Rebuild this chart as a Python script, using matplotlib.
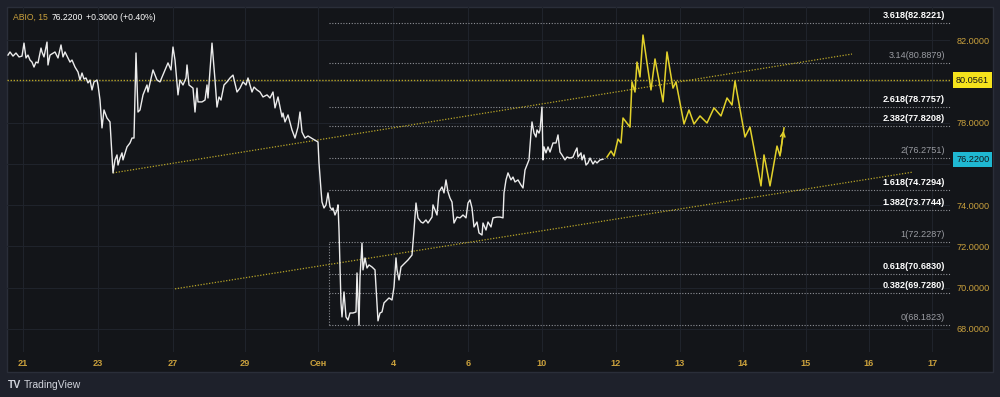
"""ABIO 15m chart with fibonacci extension and projected path (TradingView style)."""

import matplotlib
matplotlib.use("Agg")
import matplotlib.pyplot as plt
from matplotlib.patches import Rectangle

plt.rcParams["font.family"] = ["Liberation Sans", "DejaVu Sans"]

# ---- data -------------------------------------------------------------
# bar positions (chart index) and close prices of the white series
bars = [8, 10, 13, 16, 19, 22, 24, 26, 28, 30,
        32, 34, 36, 38, 41, 42, 44, 47, 48, 50,
        55, 58, 61, 63, 65, 67, 70, 72, 75, 78,
        80, 82, 84, 86, 88, 90, 92, 94, 97, 98,
        100, 102, 104, 107, 110, 113, 115, 117, 118, 120,
        122, 123, 127, 130, 132, 134, 136, 138, 140, 143,
        147, 148, 150, 153, 157, 160, 165, 168, 171, 173,
        175, 178, 180, 183, 186, 187, 189, 193, 195, 197,
        198, 202, 205, 207, 208, 212, 215, 217, 219, 221,
        224, 227, 230, 233, 237, 240, 243, 246, 248, 252,
        254, 257, 260, 263, 267, 270, 273, 275, 278, 282,
        283, 285, 288, 292, 295, 298, 300, 302, 305, 308,
        313, 318, 319, 321, 322, 324, 326, 328, 330, 332,
        333, 335, 337, 338, 339, 341, 342, 344, 346, 348,
        350, 353, 356, 357, 359, 360, 362, 363, 365, 367,
        369, 372, 375, 378, 380, 382, 384, 387, 389, 392,
        394, 396, 397, 399, 401, 403, 406, 408, 412, 414,
        416, 418, 421, 423, 426, 428, 432, 433, 437, 439,
        442, 444, 446, 448, 450, 452, 454, 457, 460, 463,
        466, 468, 470, 472, 474, 477, 479, 482, 483, 486,
        488, 491, 493, 497, 500, 503, 504, 506, 508, 511,
        513, 515, 518, 521, 523, 525, 527, 529, 531, 532,
        534, 536, 537, 539, 540, 542, 543, 544, 546, 548,
        550, 553, 556, 558, 560, 562, 565, 567, 570, 573,
        575, 577, 578, 581, 582, 584, 586, 588, 590, 593,
        595, 597, 600, 603]
close = [81.27, 81.42, 81.22, 81.37, 81.18, 81.22, 81.85, 81.13, 81.27, 81.03,
         80.93, 80.69, 80.93, 80.89, 81.61, 81.42, 81.18, 81.90, 80.79, 81.27,
         81.42, 81.13, 81.76, 81.18, 81.42, 81.22, 80.93, 81.03, 80.69, 80.45,
         80.06, 80.40, 80.11, 80.16, 79.92, 80.06, 79.58, 79.97, 80.06, 79.82,
         79.09, 77.74, 78.61, 78.22, 78.03, 75.56, 76.19, 76.43, 75.94, 76.28,
         76.53, 76.19, 76.82, 77.01, 77.25, 77.25, 81.37, 78.51, 78.61, 79.34,
         79.82, 79.48, 79.92, 80.55, 80.06, 79.97, 80.55, 80.89, 80.55, 81.66,
         81.03, 79.34, 80.06, 79.82, 80.16, 80.79, 79.82, 79.67, 78.51, 79.67,
         79.00, 79.00, 79.09, 79.82, 79.19, 81.85, 80.06, 78.75, 79.24, 79.09,
         79.82, 79.97, 80.16, 80.30, 79.48, 79.67, 79.97, 79.82, 80.16, 79.48,
         79.72, 79.58, 79.48, 79.24, 79.34, 79.19, 79.48, 78.71, 79.24, 78.27,
         78.46, 78.03, 78.37, 77.64, 77.25, 77.78, 78.51, 77.54, 77.25, 77.35,
         77.20, 77.06, 76.04, 74.73, 74.15, 73.86, 74.01, 74.59, 73.91, 73.76,
         73.86, 73.52, 73.76, 74.01, 72.79, 69.26, 68.58, 69.79, 68.58, 68.43,
         68.77, 68.77, 68.82, 70.71, 68.18, 70.52, 72.16, 70.86, 71.44, 70.95,
         71.10, 71.00, 70.86, 68.39, 68.77, 68.82, 69.26, 69.40, 69.50, 69.40,
         70.03, 71.44, 70.86, 70.37, 71.00, 71.10, 71.24, 71.34, 71.58, 72.79,
         74.10, 73.38, 73.18, 73.13, 73.28, 73.13, 73.42, 74.01, 73.52, 74.64,
         74.88, 74.59, 75.22, 74.64, 74.34, 74.15, 73.13, 73.42, 73.38, 73.52,
         73.38, 74.10, 74.25, 73.86, 72.94, 73.18, 72.65, 72.55, 73.13, 72.79,
         73.18, 72.94, 73.38, 73.42, 73.42, 73.38, 74.59, 75.22, 75.56, 75.22,
         75.36, 75.12, 75.22, 74.97, 74.83, 75.70, 75.94, 76.19, 77.49, 78.03,
         77.49, 77.30, 77.64, 77.49, 77.64, 78.75, 76.19, 76.82, 76.53, 76.82,
         76.57, 77.01, 77.01, 77.40, 76.57, 76.43, 76.19, 76.33, 76.28, 76.33,
         76.57, 76.77, 76.33, 76.53, 76.19, 76.43, 75.94, 76.04, 76.28, 75.99,
         76.14, 76.04, 76.19, 76.22]

# projected path (yellow)
proj_bars = [607, 611, 614, 618, 621, 623, 630, 632, 635, 637,
             640, 643, 647, 651, 655, 663, 667, 673, 676, 684,
             689, 694, 700, 707, 714, 721, 727, 732, 735, 745,
             750, 761, 764, 770, 777, 780, 784]
proj_price = [76.33, 76.62, 76.38, 77.20, 77.01, 78.22, 77.78, 79.97, 79.48, 80.93,
              80.21, 82.24, 80.89, 79.58, 81.08, 79.00, 81.42, 79.67, 79.97, 77.93,
              78.61, 77.93, 78.32, 77.98, 78.71, 78.32, 79.19, 78.85, 80.01, 77.30,
              77.78, 74.93, 76.43, 74.93, 76.86, 76.38, 77.74]

# channel trend lines: (bar0, price0, bar1, price1)
upper_trend = (113, 75.56, 852, 81.32)
lower_trend = (175, 69.94, 913, 75.60)

# fibonacci extension levels
fib_ratio = ["3.618", "3.14", "2.618", "2.382", "2", "1.618", "1.382", "1", "0.618", "0.382", "0"]
fib_price = [82.8221, 80.8879, 78.7757, 77.8208, 76.2751, 74.7294, 73.7744, 72.2287, 70.6830, 69.7280, 68.1823]
fib_bold = [True, False, True, True, False, True, True, False, True, True, False]
fib_start, fib_end = 329, 950

hline_price = 80.0561
last_price = 76.2200

x_tick_pos = [23, 98, 173, 245, 318, 393, 468, 542, 616, 680, 743, 806, 869, 932]
x_tick_lab = ["21", "23", "27", "29", "Сен", "4", "6", "10", "12", "13", "14", "15", "16", "17"]
y_ticks = [68, 70, 72, 74, 76, 78, 80, 82]
y_hidden = [76, 80]   # covered by the price badges

# ---- style ------------------------------------------------------------
OUTER = "#1e212b"
PANEL = "#131519"
GRID = "#1f232b"
GOLD = "#c9a03c"
YEL = "#e2d12b"
YEL_DIM = "#b8a528"
FIB = "#8e9096"
FS = 6.6

fig = plt.figure(figsize=(10, 3.97), dpi=100, facecolor=OUTER)
fig.patches.append(Rectangle((7 / 1000, 25 / 397), 986 / 1000, 365 / 397,
                             transform=fig.transFigure, facecolor=PANEL,
                             edgecolor="#2a2e39", lw=1, zorder=-5))

ax = fig.add_axes([7 / 1000, 45 / 397, 943 / 1000, 345 / 397])
ax.patch.set_alpha(0)
for s in ax.spines.values():
    s.set_visible(False)

ax.set_xlim(7, 950)
ax.set_ylim(66.88, 83.60)

ax.set_xticks(x_tick_pos)
ax.set_xticklabels(x_tick_lab)
ax.set_yticks(y_ticks)
ax.set_yticklabels(["" if v in y_hidden else f"{v:.4f}" for v in y_ticks])
ax.yaxis.tick_right()
ax.tick_params(axis="both", length=0, colors=GOLD, labelsize=FS)
ax.tick_params(axis="x", pad=5)
ax.tick_params(axis="y", pad=4.5)
for lab in ax.get_xticklabels():
    lab.set_fontweight("bold")
ax.grid(True, color=GRID, lw=0.8)
ax.set_axisbelow(True)

# fib levels
for r, p, b in zip(fib_ratio, fib_price, fib_bold):
    ax.plot([fib_start, fib_end], [p, p], color=FIB, lw=0.8,
            ls=(0, (1, 1.5)), clip_on=False, zorder=2)
    ax.annotate(f"{r}({p:.4f})", xy=(945, p), xytext=(0, 2), textcoords="offset points",
                ha="right", va="bottom", fontsize=FS,
                color="white" if b else "#9a9ca2",
                fontweight="bold" if b else "normal", zorder=5)
ax.plot([fib_start, fib_start], [fib_price[-1], fib_price[7]], color=FIB,
        lw=0.8, ls=(0, (1, 1.5)), zorder=2)

# horizontal level and trend lines
ax.plot([7, 950], [hline_price, hline_price], color=YEL_DIM, lw=1.0,
        ls=(0, (1, 1.2)), clip_on=False, zorder=3)
for x0, y0, x1, y1 in (upper_trend, lower_trend):
    ax.plot([x0, x1], [y0, y1], color=YEL_DIM, lw=0.9, ls=(0, (1, 1.3)), zorder=3)

# price and projection
ax.plot(bars, close, color="#ececec", lw=1.0, zorder=4)
ax.plot(proj_bars, proj_price, color=YEL, lw=1.1, zorder=4)
ax.annotate("", xy=(proj_bars[-1], proj_price[-1]),
            xytext=(proj_bars[-2], proj_price[-2]),
            arrowprops=dict(arrowstyle="->", color=YEL, lw=1.1, mutation_scale=8), zorder=4)

# price-scale badges
ytr = ax.get_yaxis_transform()
ax.text(1.0064, hline_price, f"{hline_price:.4f}", transform=ytr, fontsize=FS,
        color="#131519", va="center", ha="left", zorder=6,
        bbox=dict(boxstyle="square,pad=0.35", fc="#f5e31c", ec="none"))
ax.text(1.0064, last_price, f"{last_price:.4f}", transform=ytr, fontsize=FS,
        color="#131519", va="center", ha="left", zorder=6,
        bbox=dict(boxstyle="square,pad=0.35", fc="#1fb8d2", ec="none"))

# header and footer
fig.text(13 / 1000, 1 - 17 / 397, "ABIO, 15", color=GOLD, fontsize=6.2, va="center")
fig.text(52 / 1000, 1 - 17 / 397, "76.2200", color="white", fontsize=6.2, va="center")
fig.text(86 / 1000, 1 - 17 / 397, "+0.3000 (+0.40%)", color="white", fontsize=6.2, va="center")
fig.text(8 / 1000, 1 - 385 / 397, "TV", color="#d1d4dc", fontsize=7.5,
         fontweight="bold", va="center")
fig.text(24 / 1000, 1 - 385 / 397, "TradingView", color="#d1d4dc", fontsize=7.5, va="center")

fig.savefig("out.png", dpi=100, facecolor=OUTER)
